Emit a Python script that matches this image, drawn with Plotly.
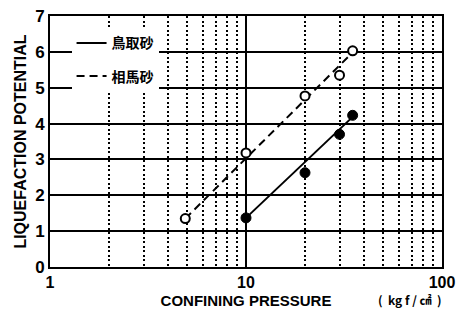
import plotly.graph_objects as go

# Data
tottori_x = [10, 20, 30, 35]          # 鳥取砂 (filled circles)
tottori_y = [1.37, 2.63, 3.7, 4.23]
tottori_fit_x = [10, 36]
tottori_fit_y = [1.37, 4.25]

soma_x = [4.9, 10, 20, 30, 35]         # 相馬砂 (open circles)
soma_y = [1.35, 3.18, 4.77, 5.35, 6.03]
soma_fit_x = [4.9, 36]
soma_fit_y = [1.35, 6.05]

x_ticks = [1, 10, 100]
x_minor = [2, 3, 4, 5, 6, 7, 8, 9, 20, 30, 40, 50, 60, 70, 80, 90]
y_ticks = [0, 1, 2, 3, 4, 5, 6, 7]

FONT = "Liberation Sans, Arial, sans-serif"
CJK = "Noto Sans CJK JP"

fig = go.Figure()
fig.add_trace(go.Scatter(x=tottori_fit_x, y=tottori_fit_y, mode="lines",
                         line=dict(color="black", width=2), name="<b>鳥取砂</b>",
                         legendgroup="a"))
fig.add_trace(go.Scatter(x=soma_fit_x, y=soma_fit_y, mode="lines",
                         line=dict(color="black", width=2, dash="8px,5px"),
                         name="<b>相馬砂</b>", legendgroup="b"))
fig.add_trace(go.Scatter(x=soma_x, y=soma_y, mode="markers", showlegend=False,
                         marker=dict(symbol="circle", size=9, color="white",
                                     line=dict(color="black", width=2))))
fig.add_trace(go.Scatter(x=tottori_x, y=tottori_y, mode="markers", showlegend=False,
                         marker=dict(symbol="circle", size=10, color="black",
                                     line=dict(color="black", width=1))))

# page body adds an 8px offset; compensate so the plot area sits at x 50..442, y 16..267
fig.update_layout(
    width=462, height=301,
    margin=dict(l=42, r=28, t=8, b=42),
    paper_bgcolor="white", plot_bgcolor="white",
    font=dict(family=FONT, color="black"),
    legend=dict(x=0.055, y=0.955, xanchor="left", yanchor="top",
                bgcolor="white", borderwidth=0,
                font=dict(family=CJK, size=14, color="black"),
                tracegroupgap=12, itemclick=False),
    xaxis=dict(type="log", range=[0, 2], tickvals=x_ticks,
               ticktext=["<b>%d</b>" % v for v in x_ticks],
               tickfont=dict(size=16, family=FONT), ticks="",
               ticklabeloverflow="allow",
               showgrid=True, gridcolor="black", gridwidth=1.5,
               minor=dict(tickvals=x_minor, showgrid=True, gridcolor="black",
                          gridwidth=1.6, griddash="2px,2.5px", ticks=""),
               showline=True, linecolor="black", linewidth=2, mirror=True,
               zeroline=False, automargin=False,
               title=dict(text="<b>CONFINING PRESSURE</b>", standoff=7,
                          font=dict(size=15, family=FONT))),
    yaxis=dict(range=[0, 7], tickvals=y_ticks, ticks="",
               ticktext=["<b>%d</b>" % v for v in y_ticks],
               tickfont=dict(size=17, family=FONT),
               ticklabeloverflow="allow",
               showgrid=True, gridcolor="black", gridwidth=1.5,
               showline=True, linecolor="black", linewidth=2, mirror=True,
               zeroline=False, automargin=False,
               title=dict(text="<b>LIQUEFACTION POTENTIAL</b>", standoff=5,
                          font=dict(size=16, family=FONT))),
)
fig.add_annotation(text="<b>(  kg f / ㎠  )</b>", xref="paper", yref="paper",
                   x=(410 - 50) / 392, y=(267 - 299) / 251, showarrow=False,
                   xanchor="center", yanchor="middle",
                   font=dict(size=12, family=CJK, color="black"))

fig.write_html("out.html")
